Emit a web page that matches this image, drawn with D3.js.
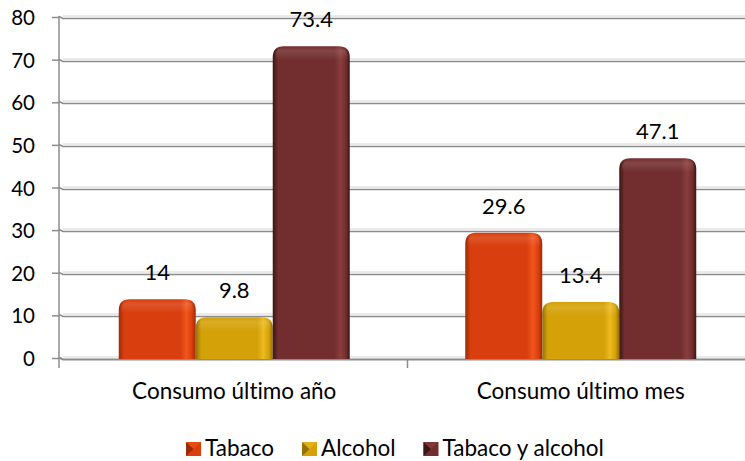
<!DOCTYPE html>
<html>
<head>
<meta charset="utf-8">
<script src="https://cdn.jsdelivr.net/npm/d3@7"></script>
<style>
  html, body { margin: 0; padding: 0; background: #fff; }
  svg { display: block; }
  text { font-family: Lato, "Open Sans", sans-serif; fill: #000; font-variant-ligatures: none; font-feature-settings: "liga" 0; }
</style>
</head>
<body>
<svg id="chart" width="745" height="461"></svg>
<script>
const categories = ["Consumo último año", "Consumo último mes"];
const seriesNames = ["Tabaco", "Alcohol", "Tabaco y alcohol"];
const tabaco = [14, 29.6];
const alcohol = [9.8, 13.4];
const tabacoYAlcohol = [73.4, 47.1];
const yTicks = [0, 10, 20, 30, 40, 50, 60, 70, 80];

const seriesValues = [tabaco, alcohol, tabacoYAlcohol];
const palette = [
  { main: "#d93e0e", dark: "#9c2a07", light: "#f2561c" },
  { main: "#d4a108", dark: "#94700a", light: "#ecbb1e" },
  { main: "#722e2e", dark: "#3d1515", light: "#8a3d3d" }
];

const svg = d3.select("#chart");
const W = 745;
const axisX = 59;
const y = d3.scaleLinear().domain([0, 80]).range([359, 18]);
const x0 = d3.scaleBand().domain(categories).range([61, 754]).padding(0);
const bw = x0.bandwidth();
const x1 = d3.scaleBand().domain(seriesNames).range([bw / 6, bw * 5 / 6]).padding(0);

const defs = svg.append("defs");
palette.forEach((p, i) => {
  const g = defs.append("linearGradient").attr("id", "bar" + i)
    .attr("x1", "0").attr("x2", "1").attr("y1", "0").attr("y2", "0");
  g.append("stop").attr("offset", "0").attr("stop-color", p.dark);
  g.append("stop").attr("offset", "0.07").attr("stop-color", p.main);
  g.append("stop").attr("offset", "0.8").attr("stop-color", p.main);
  g.append("stop").attr("offset", "0.88").attr("stop-color", p.light);
  g.append("stop").attr("offset", "0.95").attr("stop-color", p.main);
  g.append("stop").attr("offset", "1").attr("stop-color", p.dark);
});

// gridlines (3D-style)
const grid = svg.append("g");
yTicks.forEach(t => {
  const yy = Math.round(y(t)) + 0.5;
  grid.append("path")
    .attr("d", `M${axisX + 4},${yy - 2.5}L${W},${yy - 2.5}`)
    .attr("stroke", "#d6d6d6").attr("stroke-width", 1).attr("fill", "none");
  grid.append("path")
    .attr("d", `M${axisX},${yy - 2}L${axisX + 4},${yy}L${W},${yy}`)
    .attr("stroke", "#8c8c8c").attr("stroke-width", t === 0 ? 2 : 1.5).attr("fill", "none");
});

// y axis
const yAxis = d3.axisLeft(y).tickValues(yTicks).tickSize(7).tickPadding(17).tickSizeOuter(0);
const ya = svg.append("g").attr("transform", `translate(${axisX},0)`).call(yAxis);
ya.select(".domain").remove();
ya.selectAll(".tick line").attr("stroke", "#8c8c8c").attr("stroke-width", 1.5)
  .attr("transform", "translate(0,-1)");
ya.selectAll(".tick text").attr("font-family", "Lato, sans-serif").attr("font-size", 20.5).attr("fill", "#000");

svg.append("line").attr("x1", axisX).attr("x2", axisX).attr("y1", 16).attr("y2", 368)
  .attr("stroke", "#8c8c8c").attr("stroke-width", 1.5);

// x axis category ticks
const xTickPos = [x0.range()[0], x0(categories[1])];
svg.append("g").selectAll("line").data(xTickPos.slice(1)).join("line")
  .attr("x1", d => d).attr("x2", d => d).attr("y1", 360).attr("y2", 368)
  .attr("stroke", "#8c8c8c").attr("stroke-width", 1.5);

// bars
const r = 11;
function barPath(x, w, top, bottom) {
  const rr = Math.min(r, (bottom - top));
  return `M${x},${bottom}L${x},${top + rr}Q${x},${top} ${x + rr},${top}L${x + w - rr},${top}Q${x + w},${top} ${x + w},${top + rr}L${x + w},${bottom}Z`;
}
const barsG = svg.append("g");
categories.forEach((c, ci) => {
  seriesNames.forEach((s, si) => {
    const v = seriesValues[si][ci];
    const bx = x0(c) + x1(s);
    const w = x1.bandwidth();
    const top = y(v), bottom = y(0);
    barsG.append("path").attr("d", barPath(bx, w, top, bottom)).attr("fill", `url(#bar${si})`);
    const gid = `tb${ci}_${si}`;
    const g = defs.append("linearGradient").attr("id", gid)
      .attr("x1", 0).attr("x2", 0).attr("y1", top).attr("y2", top + 14)
      .attr("gradientUnits", "userSpaceOnUse");
    g.append("stop").attr("offset", 0).attr("stop-color", "#fff").attr("stop-opacity", 0.0);
    g.append("stop").attr("offset", 0.35).attr("stop-color", "#fff").attr("stop-opacity", 0.12);
    g.append("stop").attr("offset", 1).attr("stop-color", "#fff").attr("stop-opacity", 0);
    barsG.append("path").attr("d", barPath(bx + 2, w - 4, top + 1, Math.min(top + 14, bottom))).attr("fill", `url(#${gid})`);
    barsG.append("text")
      .attr("x", bx + w / 2).attr("y", top - 19)
      .attr("text-anchor", "middle").attr("font-size", 22)
      .text(v);
  });
});

// category labels
svg.append("g").selectAll("text").data(categories).join("text")
  .attr("x", d => x0(d) + bw / 2).attr("y", 399)
  .attr("text-anchor", "middle").attr("font-size", 22.5)
  .text(d => d);

// legend
const leg = svg.append("g");
let cx = 0;
seriesNames.forEach((s, i) => {
  const gi = leg.append("g");
  const p = palette[i];
  gi.append("rect").attr("x", cx).attr("y", 442).attr("width", 15).attr("height", 14).attr("fill", p.main);
  gi.append("path").attr("d", `M${cx},442L${cx + 7.5},449L${cx},456Z`).attr("fill", p.dark);
  gi.append("path").attr("d", `M${cx},442L${cx + 15},442L${cx + 7.5},449Z`).attr("fill", p.light).attr("opacity", 0.6);
  const t = gi.append("text").attr("x", cx + 19).attr("y", 456).attr("font-size", 22.5).text(s);
  const tw = t.node().getComputedTextLength();
  cx += 19 + tw + 28;
});
const total = cx - 28;
leg.attr("transform", `translate(${395 - total / 2},0)`);
</script>
</body>
</html>
